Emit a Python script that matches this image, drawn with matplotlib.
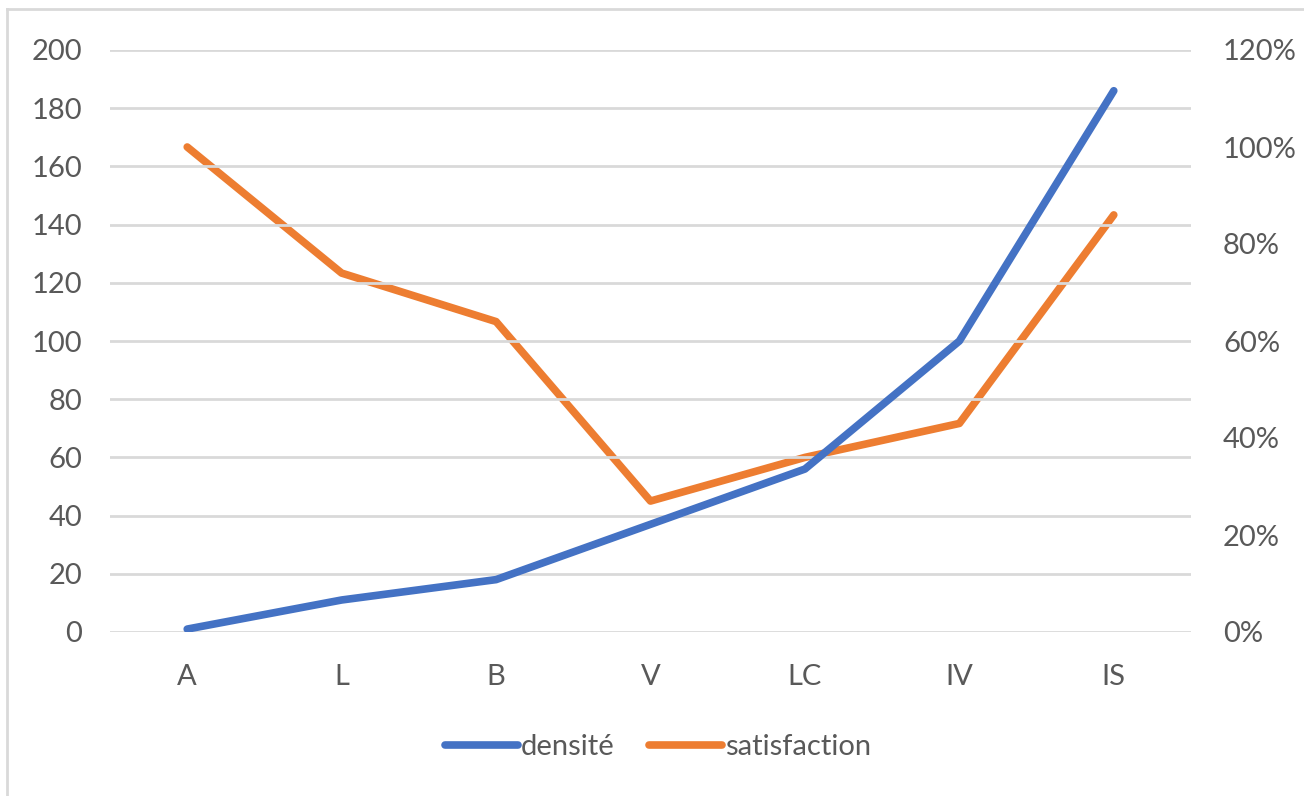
import matplotlib
matplotlib.use("Agg")
import matplotlib.pyplot as plt
from matplotlib.lines import Line2D
from matplotlib.ticker import FuncFormatter

categories = ["A", "L", "B", "V", "LC", "IV", "IS"]
densite = [1, 11, 18, 37, 56, 100, 186]
satisfaction = [1.00, 0.74, 0.64, 0.27, 0.36, 0.43, 0.86]
left_ticks = [0, 20, 40, 60, 80, 100, 120, 140, 160, 180, 200]
right_ticks = [0, 0.2, 0.4, 0.6, 0.8, 1.0, 1.2]

plt.rcParams['font.family'] = ['Lato', 'DejaVu Sans']
txt = '#595959'
grid = '#D9D9D9'
blue = '#4472C4'
orange = '#ED7D31'

fig = plt.figure(figsize=(13.04, 7.96), dpi=100)
ax = fig.add_axes([110/1304, 1-632/796, 1081/1304, 582/796])
ax2 = ax.twinx()

x = list(range(len(categories)))
ax.set_xlim(-0.5, len(categories) - 0.5)
ax.set_ylim(0, 200)
ax2.set_ylim(0, 1.2)

ax.set_yticks(left_ticks)
ax2.set_yticks(right_ticks)
ax2.yaxis.set_major_formatter(FuncFormatter(lambda v, p: f"{v*100:.0f}%"))
ax.set_xticks(x)
ax.set_xticklabels(categories)

for a in (ax, ax2):
    for s in a.spines.values():
        s.set_visible(False)
    a.tick_params(length=0, labelsize=21, labelcolor=txt)
ax.tick_params(axis='y', pad=20)
ax2.tick_params(axis='y', pad=23)
ax.tick_params(axis='x', pad=23)

ax.yaxis.grid(True, color=grid, linewidth=2.0)
ax.set_axisbelow(True)

l1, = ax.plot(x, densite, color=blue, linewidth=5.5, solid_capstyle='round',
              solid_joinstyle='round', label='densité', zorder=3)
l2, = ax2.plot(x, satisfaction, color=orange, linewidth=5.5, solid_capstyle='round',
               solid_joinstyle='round', label='satisfaction', zorder=3)
ax.set_zorder(ax2.get_zorder() + 1)
ax.patch.set_visible(False)

h1 = Line2D([], [], color=blue, linewidth=5.5, solid_capstyle='round')
h2 = Line2D([], [], color=orange, linewidth=5.5, solid_capstyle='round')
leg = fig.legend(handles=[h1, h2], labels=['densité', 'satisfaction'], loc='center',
                 bbox_to_anchor=(658/1304, 1-747/796),
                 ncol=2, frameon=False, fontsize=21, handlelength=2.5,
                 handletextpad=0.1, columnspacing=1.2)
for t in leg.get_texts():
    t.set_color(txt)

# chart area border (left and top edges visible)
fig.add_artist(Line2D([7/1304, 7/1304], [0, 1-9/796], transform=fig.transFigure,
                      color=grid, linewidth=2))
fig.add_artist(Line2D([7/1304, 1], [1-9/796, 1-9/796], transform=fig.transFigure,
                      color=grid, linewidth=2))

fig.savefig("out.png", dpi=100)
